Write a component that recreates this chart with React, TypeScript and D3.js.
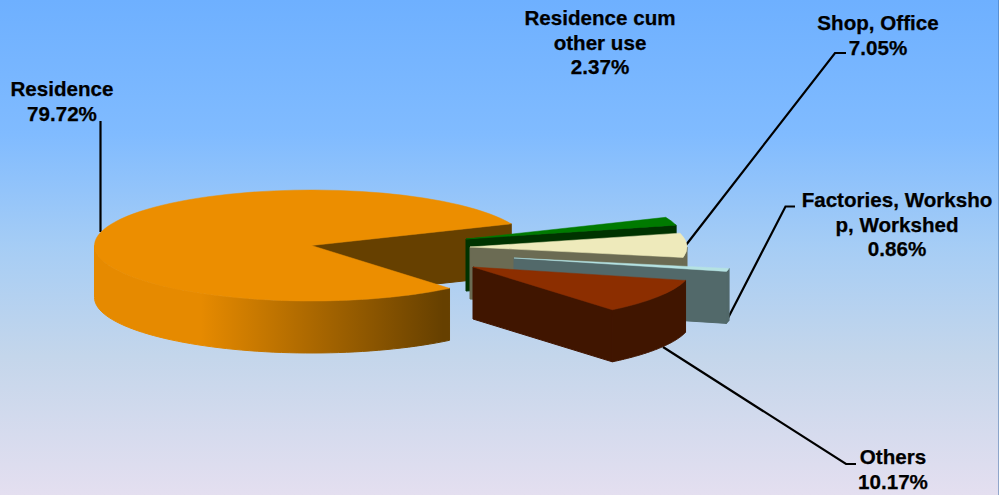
import React from "react";
import * as d3 from "d3";

const categories = ["Residence", "Residence cum other use", "Shop, Office", "Factories, Workshop, Workshed", "Others"];
const values = [79.72, 2.37, 7.05, 0.86, 10.17];
const labelLines = [
  ["Residence", "79.72%"],
  ["Residence cum", "other use", "2.37%"],
  ["Shop, Office", "7.05%"],
  ["Factories, Worksho", "p, Workshed", "0.86%"],
  ["Others", "10.17%"],
];
const topColors = ["#ec8e00", "#007a00", "#eeeabb", "#b5e2e2", "#8c2e00"];
const wallColors = ["#664000", "#003300", "#6b6b53", "#52696a", "#401500"];
const apexX = [311.5, 466, 470, 514, 473];
const apexY = [245.5, 239, 247, 258, 267];
const radii = [217, 217, 217, 219, 219];
const labelX = [62, 600, 878, 897, 893];
const labelY = [96, 25, 30, 207, 464];
const leaders = [
  [[100.5, 121], [100.5, 232]],
  [],
  [[846, 53], [835, 53], [686, 245]],
  [[795, 206.5], [785.5, 206.5], [727, 320]],
  [[663, 347], [846, 464], [856, 464]],
];

const W = 999, H = 495;
const ry = 55.5, depth = 52;
const deg = Math.PI / 180;

const pie = d3.pie<number>().sort(null).startAngle(140.5 * deg).endAngle(500.5 * deg);
const arcs = pie(values);
const arcGen = d3.arc<any>().innerRadius(0);

const px = (i: number, a: number) => apexX[i] + radii[i] * Math.sin(a);
const py = (i: number, a: number) => apexY[i] - ry * Math.cos(a);

const line = d3.line();

function outerWall(i: number, a0: number, a1: number) {
  // only the part of the rim that faces the viewer (lower half of the ellipse)
  const shift = a0 >= 2 * Math.PI ? 2 * Math.PI : 0;
  const from = Math.max(a0 - shift, Math.PI / 2);
  const to = Math.min(a1 - shift, 1.5 * Math.PI);
  if (to <= from) return null;
  const n = 60;
  const angles = d3.range(n + 1).map((k) => from + ((to - from) * k) / n);
  return d3
    .area<number>()
    .x((a) => px(i, a))
    .y0((a) => py(i, a))
    .y1((a) => py(i, a) + depth)(angles);
}

export default function App() {
  return (
    <svg width={W} height={H} viewBox={`0 0 ${W} ${H}`} style={{ position: "fixed", left: 0, top: 0, display: "block" }}>
      <defs>
        <linearGradient id="bg" x1="0" y1="0" x2="0" y2="1">
          <stop offset="0" stopColor="#6eb0ff" />
          <stop offset="0.27" stopColor="#80bbff" />
          <stop offset="0.5" stopColor="#a6cdf5" />
          <stop offset="0.72" stopColor="#c4d6eb" />
          <stop offset="1" stopColor="#e4dff0" />
        </linearGradient>
        <linearGradient id="rim" gradientUnits="userSpaceOnUse" x1="94" y1="0" x2="450" y2="0">
          <stop offset="0" stopColor="#e68a00" />
          <stop offset="0.3" stopColor="#e68a00" />
          <stop offset="0.98" stopColor="#664000" />
          <stop offset="1" stopColor="#664000" />
        </linearGradient>
      </defs>
      <rect width={W} height={H} fill="url(#bg)" />
      <rect x={998} width={1} height={H} fill="#3f6fa8" opacity={0.5} />

      {leaders.map((pts, i) =>
        pts.length ? (
          <path key={i} d={line(pts as [number, number][]) ?? ""} fill="none" stroke="#000" strokeWidth={2.2} />
        ) : null
      )}

      {arcs.map((d, i) => {
        const a1 = d.endAngle;
        const radial = line([
          [apexX[i], apexY[i]],
          [px(i, a1), py(i, a1)],
          [px(i, a1), py(i, a1) + depth],
          [apexX[i], apexY[i] + depth],
        ]);
        const rimFill = i === 0 ? "url(#rim)" : wallColors[i];
        return (
          <g key={categories[i]}>
            <path d={(radial ?? "") + "Z"} fill={wallColors[i]} stroke={wallColors[i]} strokeWidth={1} />
            <path d={outerWall(i, d.startAngle, d.endAngle) ?? ""} fill={rimFill} stroke={rimFill} strokeWidth={1} />
            <path
              d={arcGen({ ...d, outerRadius: radii[i] }) ?? ""}
              transform={`translate(${apexX[i]},${apexY[i]}) scale(1,${ry / radii[i]})`}
              fill={topColors[i]}
              stroke={topColors[i]}
              strokeWidth={0.5}
              vectorEffect="non-scaling-stroke"
            />
          </g>
        );
      })}

      {labelLines.map((ls, i) => (
        <text
          key={i}
          textAnchor="middle"
          fontFamily="'Liberation Sans', Arial, sans-serif"
          fontWeight={700}
          fontSize={20.6}
          fill="#000"
          stroke="#000"
          strokeWidth={0.25}
        >
          {ls.map((t, j) => (
            <tspan key={j} x={labelX[i]} y={labelY[i] + j * 24.5}>
              {t}
            </tspan>
          ))}
        </text>
      ))}
    </svg>
  );
}
